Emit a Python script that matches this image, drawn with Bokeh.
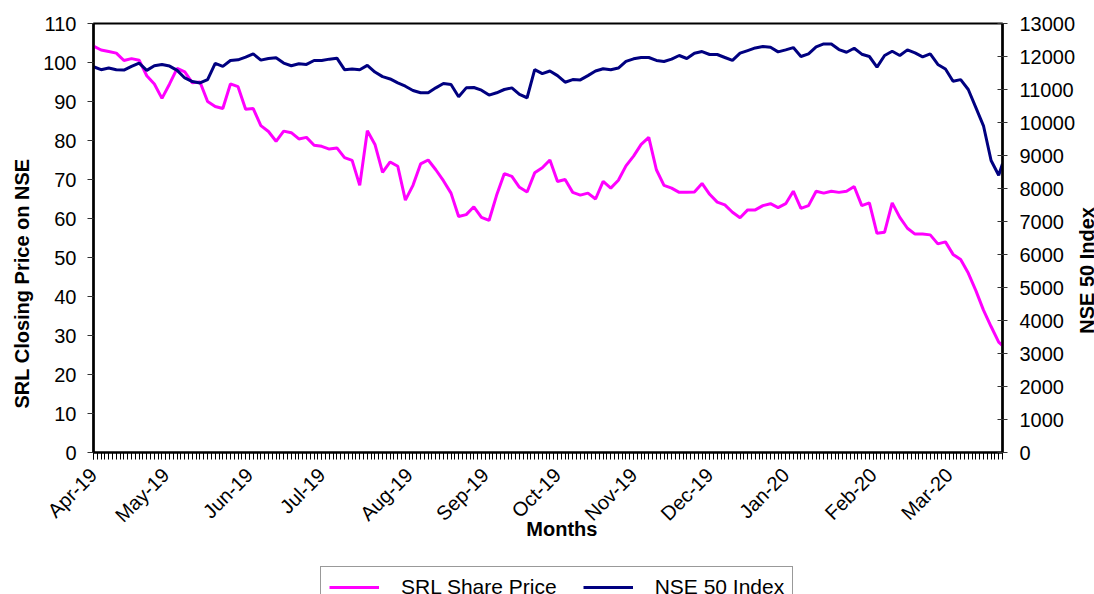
from math import pi
from bokeh.plotting import figure
from bokeh.layouts import column, row
from bokeh.models import (Range1d, LinearAxis, FixedTicker, Legend, LegendItem,
                          Title, Label, ColumnDataSource)
from bokeh.embed import file_html
from bokeh.resources import INLINE

# ---------------- data ----------------
month_labels = ["Apr-19", "May-19", "Jun-19", "Jul-19", "Aug-19", "Sep-19",
                "Oct-19", "Nov-19", "Dec-19", "Jan-20", "Feb-20", "Mar-20"]
month_start_day = [0, 19, 41, 60, 83, 103, 122, 142, 162, 182, 205, 225]
n_days = 240
sample_day = list(range(0, n_days, 2)) + [n_days - 1]

srl_price = [
    104.2, 103.2, 102.8, 102.4, 100.5, 101.0, 100.6, 96.6, 94.5, 90.8,
    94.5, 98.5, 97.6, 94.8, 95.0, 90.0, 88.7, 88.2, 94.5, 93.8,
    88.0, 88.2, 83.8, 82.3, 79.8, 82.4, 82.0, 80.4, 80.8, 78.8,
    78.5, 77.8, 78.1, 75.6, 74.9, 68.5, 82.5, 79.0, 71.8, 74.5,
    73.4, 64.7, 68.5, 74.0, 75.0, 72.5, 69.7, 66.5, 60.5, 61.0,
    63.0, 60.3, 59.5, 66.0, 71.5, 70.8, 68.0, 66.8, 71.7, 73.0,
    75.0, 69.5, 70.0, 66.7, 66.0, 66.5, 65.0, 69.5, 67.8, 69.8,
    73.5, 76.0, 79.0, 80.8, 72.5, 68.5, 67.8, 66.7, 66.7, 66.8,
    69.0, 66.2, 64.2, 63.5, 61.6, 60.2, 62.2, 62.2, 63.3, 63.8,
    62.8, 63.8, 67.0, 62.6, 63.3, 67.0, 66.5, 67.0, 66.7, 67.0,
    68.2, 63.3, 64.0, 56.2, 56.5, 64.0, 60.3, 57.5, 56.0, 56.0,
    55.8, 53.5, 54.0, 50.8, 49.5, 46.0, 41.5, 36.5, 32.3, 28.3,
    27.4,
]

nse_index = [
    11690, 11600, 11650, 11600, 11590, 11700, 11800, 11580, 11720, 11760,
    11710, 11580, 11350, 11240, 11200, 11300, 11790, 11700, 11880, 11900,
    11980, 12080, 11890, 11940, 11960, 11800, 11720, 11780, 11760, 11880,
    11880, 11920, 11950, 11600, 11620, 11600, 11730, 11530, 11390, 11320,
    11200, 11100, 10970, 10900, 10900, 11050, 11180, 11150, 10780, 11050,
    11060, 10980, 10830, 10900, 11000, 11050, 10850, 10750, 11600, 11480,
    11560, 11420, 11220, 11300, 11290, 11420, 11560, 11630, 11600, 11650,
    11850, 11930, 11970, 11970, 11880, 11850, 11920, 12030, 11940, 12100,
    12150, 12060, 12060, 11970, 11880, 12100, 12180, 12260, 12300, 12280,
    12140, 12200, 12270, 12000, 12080, 12290, 12380, 12380, 12210, 12130,
    12250, 12070, 12000, 11680, 12030, 12160, 12030, 12200, 12110, 11990,
    12080, 11760, 11620, 11250, 11300, 11000, 10450, 9900, 8850, 8400,
    8750,
]

left_ticks = list(range(0, 111, 10))
right_ticks = list(range(0, 13001, 1000))

FONT = "Liberation Sans"
NBSP = "\u00a0"
PINK = "#FF00FF"
NAVY = "#000080"

# ---------------- main figure ----------------
W_MAIN, W_STRIP, H_MAIN, H_LEG = 1078, 16, 560, 34
BORDER = dict(min_border_left=93, min_border_right=74, min_border_top=23,
              min_border_bottom=108)
p = figure(width=W_MAIN, height=H_MAIN, output_backend="svg",
           toolbar_location=None, x_range=Range1d(0, n_days - 1),
           y_range=Range1d(0, 110), **BORDER)
p.extra_y_ranges = {"nse": Range1d(0, 13000)}
p.xgrid.visible = False
p.ygrid.visible = False
p.background_fill_color = "white"
p.border_fill_color = "white"
p.outline_line_color = "black"
p.outline_line_width = 2

src = ColumnDataSource(dict(day=sample_day, srl=srl_price, nse=nse_index))
p.line("day", "srl", source=src, line_color=PINK, line_width=3)
p.line("day", "nse", source=src, line_color=NAVY, line_width=3,
       y_range_name="nse")

# x axis
xa = p.xaxis[0]
xa.ticker = FixedTicker(ticks=month_start_day, minor_ticks=list(range(n_days)))
xa.major_label_overrides = {d: lab for d, lab in zip(month_start_day, month_labels)}
xa.major_label_orientation = pi / 4
xa.major_tick_in = 0
xa.major_tick_out = 7
xa.minor_tick_in = 0
xa.minor_tick_out = 7
xa.axis_line_width = 2
xa.axis_line_color = "black"
xa.major_tick_line_color = "black"
xa.minor_tick_line_color = "black"
xa.major_label_standoff = 12
xa.major_label_text_font = FONT
xa.major_label_text_font_size = "20px"
xa.major_label_text_color = "black"
xa.axis_label = NBSP * 5 + "Months"
xa.axis_label_standoff = -19
xa.axis_label_text_font = FONT
xa.axis_label_text_font_style = "bold"
xa.axis_label_text_font_size = "20px"
xa.axis_label_text_color = "black"

# left axis
ya = p.yaxis[0]
ya.ticker = FixedTicker(ticks=left_ticks)
ya.major_tick_in = 0
ya.major_tick_out = 6
ya.minor_tick_out = 0
ya.minor_tick_in = 0
ya.axis_line_width = 2.5
ya.axis_line_color = "black"
ya.major_tick_line_color = "#333333"
ya.major_label_standoff = 11
ya.major_label_text_font = FONT
ya.major_label_text_font_size = "20px"
ya.major_label_text_color = "black"

# right axis
ra = LinearAxis(y_range_name="nse", ticker=FixedTicker(ticks=right_ticks))
ra.major_tick_in = 5
ra.major_tick_out = 5
ra.minor_tick_out = 0
ra.minor_tick_in = 0
ra.axis_line_width = 2.5
ra.axis_line_color = "black"
ra.major_tick_line_color = "#333333"
ra.major_label_standoff = 12
ra.major_label_text_font = FONT
ra.major_label_text_font_size = "20px"
ra.major_label_text_color = "black"
p.add_layout(ra, "right")

# left title (starts 44px above the frame bottom)
p.add_layout(Title(text="SRL Closing Price on NSE", align="left", offset=44,
                   standoff=15, text_font=FONT, text_font_style="bold",
                   text_font_size="20px", text_color="black"),
             "left")

# ---------------- right title strip ----------------
st = figure(width=W_STRIP, height=H_MAIN, output_backend="svg",
            toolbar_location=None, x_range=Range1d(0, 1),
            y_range=Range1d(0, 110), min_border_left=0, min_border_right=0,
            min_border_top=23, min_border_bottom=108)
st.axis.visible = False
st.xgrid.visible = False
st.ygrid.visible = False
st.outline_line_color = None
st.background_fill_color = "white"
st.border_fill_color = "white"
st.add_layout(Label(x=0.5, y=47.4, angle=pi / 2, text="NSE  50 Index",
                    text_font=FONT, text_font_style="bold",
                    text_font_size="20px", text_color="black",
                    text_align="center", text_baseline="middle"))

# ---------------- legend strip ----------------
lg = figure(width=W_MAIN, height=H_LEG, output_backend="svg",
            toolbar_location=None, x_range=Range1d(0, 1), y_range=Range1d(0, 1),
            min_border=0, min_border_left=0, min_border_right=0,
            min_border_top=0, min_border_bottom=0)
lg.axis.visible = False
lg.xgrid.visible = False
lg.ygrid.visible = False
lg.outline_line_color = None
lg.background_fill_color = "white"
lg.border_fill_color = "white"
# proxy renderers for the legend: same series, all outside this strip's ranges
l1 = lg.line("day", "srl", source=src, line_color=PINK, line_width=3)
l2 = lg.line("day", "nse", source=src, line_color=NAVY, line_width=3)
legend = Legend(items=[LegendItem(label="SRL Share Price", renderers=[l1]),
                       LegendItem(label="NSE 50 Index", renderers=[l2])],
                orientation="horizontal", location=(227, -14),
                label_text_font=FONT, label_text_font_size="21px",
                label_text_color="black", glyph_width=50, glyph_height=24,
                label_height=24, label_standoff=22, spacing=26, padding=8,
                margin=0, border_line_color="#333333", border_line_width=1,
                background_fill_color="white", background_fill_alpha=1)
lg.add_layout(legend)

layout = row(column(p, lg, spacing=0), st, spacing=0)
open("out.html", "w").write(file_html(layout, INLINE))
